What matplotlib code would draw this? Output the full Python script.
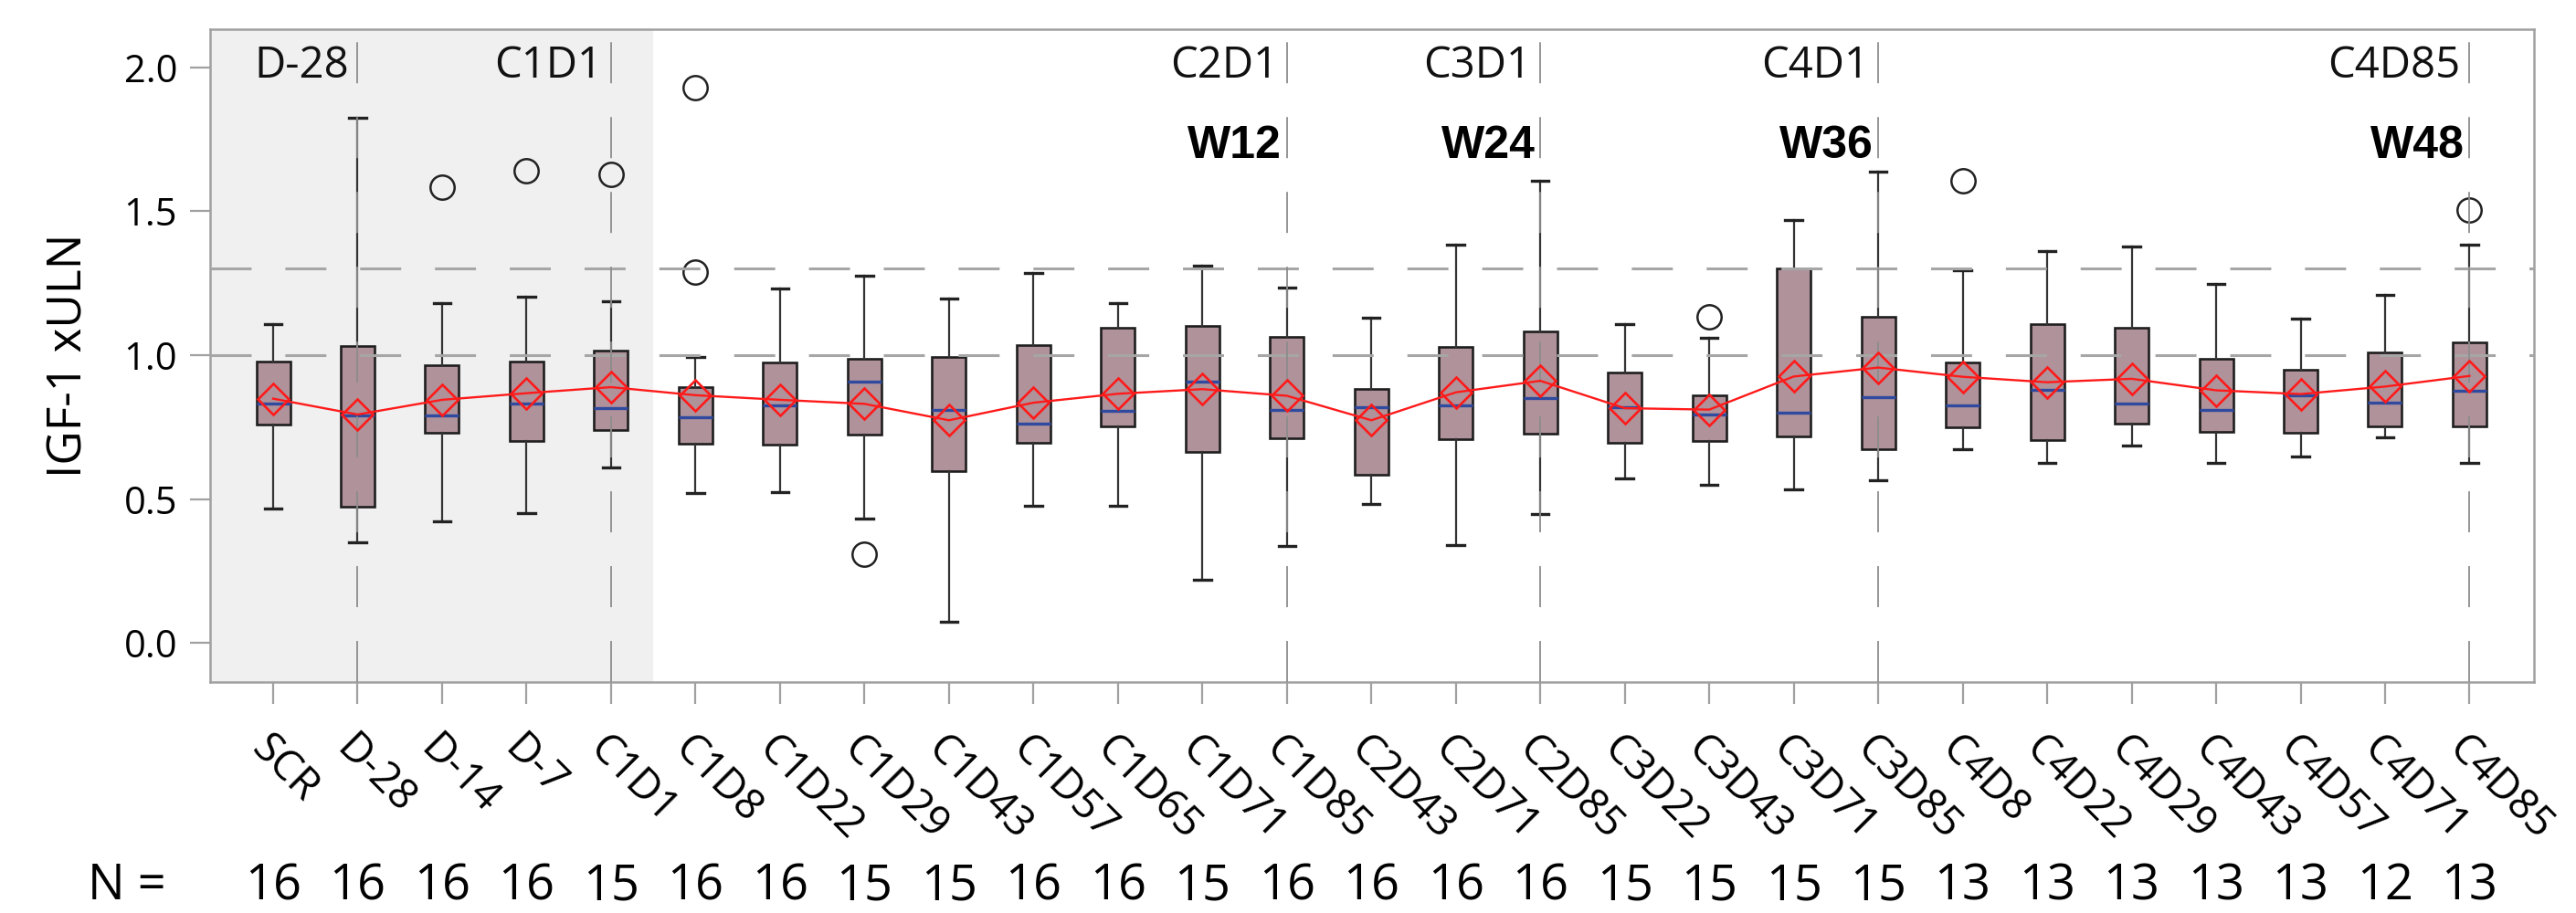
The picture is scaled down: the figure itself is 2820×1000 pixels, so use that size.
import numpy as np
import matplotlib
matplotlib.use('Agg')
import matplotlib.pyplot as plt
from matplotlib.transforms import ScaledTranslation

plt.rcParams['font.family'] = ['Open Sans', 'DejaVu Sans']

# visit labels and sample sizes
visits = ['SCR', 'D-28', 'D-14', 'D-7', 'C1D1', 'C1D8', 'C1D22', 'C1D29', 'C1D43',
          'C1D57', 'C1D65', 'C1D71', 'C1D85', 'C2D43', 'C2D71', 'C2D85', 'C3D22',
          'C3D43', 'C3D71', 'C3D85', 'C4D8', 'C4D22', 'C4D29', 'C4D43', 'C4D57',
          'C4D71', 'C4D85']
n_subj = [16, 16, 16, 16, 15, 16, 16, 15, 15, 16, 16, 15, 16, 16, 16, 16, 15, 15,
          15, 15, 13, 13, 13, 13, 13, 12, 13]

# box statistics (IGF-1 xULN)
q1 = [0.759, 0.474, 0.731, 0.702, 0.741, 0.694, 0.688, 0.723, 0.598, 0.697, 0.754,
      0.663, 0.711, 0.584, 0.709, 0.728, 0.697, 0.703, 0.719, 0.673, 0.751, 0.706,
      0.762, 0.734, 0.731, 0.754, 0.754]
medians = [0.831, 0.792, 0.792, 0.832, 0.815, 0.784, 0.826, 0.907, 0.809, 0.761, 0.807,
           0.909, 0.810, 0.819, 0.825, 0.852, 0.819, 0.795, 0.800, 0.853, 0.826, 0.881,
           0.833, 0.810, 0.862, 0.836, 0.878]
q3 = [0.977, 1.032, 0.966, 0.977, 1.015, 0.889, 0.974, 0.988, 0.994, 1.036, 1.094,
      1.100, 1.065, 0.882, 1.029, 1.083, 0.940, 0.859, 1.302, 1.134, 0.975, 1.108,
      1.096, 0.987, 0.948, 1.011, 1.044]
whis_lo = [0.469, 0.351, 0.422, 0.451, 0.609, 0.522, 0.526, 0.433, 0.074, 0.476, 0.476,
           0.220, 0.338, 0.484, 0.341, 0.447, 0.573, 0.550, 0.535, 0.567, 0.673, 0.625,
           0.686, 0.627, 0.647, 0.715, 0.625]
whis_hi = [1.109, 1.823, 1.180, 1.204, 1.187, 0.993, 1.230, 1.275, 1.198, 1.284, 1.180,
           1.310, 1.235, 1.131, 1.384, 1.606, 1.109, 1.059, 1.468, 1.638, 1.296, 1.360,
           1.378, 1.246, 1.128, 1.208, 1.384]
means = [0.849, 0.794, 0.845, 0.868, 0.889, 0.861, 0.845, 0.831, 0.774, 0.835, 0.866,
         0.882, 0.859, 0.774, 0.871, 0.911, 0.816, 0.811, 0.926, 0.957, 0.925, 0.906,
         0.918, 0.878, 0.865, 0.891, 0.928]
outliers = {'D-14': [1.585], 'D-7': [1.64], 'C1D1': [1.627], 'C1D8': [1.929, 1.288],
            'C1D29': [0.308], 'C3D43': [1.132], 'C4D8': [1.606], 'C4D85': [1.503]}

# reference markers
ref_levels = [1.0, 1.3]
mark_visits = ['D-28', 'C1D1', 'C1D85', 'C2D85', 'C3D85', 'C4D85']
mark_labels = ['D-28', 'C1D1', 'C2D1', 'C3D1', 'C4D1', 'C4D85']
week_labels = ['', '', 'W12', 'W24', 'W36', 'W48']
run_in_end = 'C1D1'

x = np.arange(len(visits))

fig = plt.figure(figsize=(28.2, 10), dpi=100)
ax = fig.add_axes([0.0816, 0.253, 0.902, 0.715])

ax.axvspan(-0.745, visits.index(run_in_end) + 0.5, color='#f0f0f0', zorder=0, lw=0)

stats = []
for i, v in enumerate(visits):
    stats.append(dict(label=v, q1=q1[i], med=medians[i], q3=q3[i],
                      whislo=whis_lo[i], whishi=whis_hi[i],
                      fliers=outliers.get(v, []), mean=means[i]))

ax.bxp(stats, positions=x, widths=0.4, capwidths=0.2, patch_artist=True,
       showmeans=False, manage_ticks=False,
       boxprops=dict(facecolor='#b0929a', edgecolor='#1e1e1e', linewidth=1.9),
       medianprops=dict(color='#2f4a9e', linewidth=2.4),
       whiskerprops=dict(color='#333333', linewidth=1.6),
       capprops=dict(color='#222222', linewidth=2.4),
       flierprops=dict(marker='o', markersize=19, markerfacecolor='none',
                       markeredgecolor='#222222', markeredgewidth=1.8))

for lvl in ref_levels:
    ax.axhline(lvl, color='#a6a6a6', lw=2.2, dashes=(14.7, 12.1), zorder=3)

for v, top, wk in zip(mark_visits, mark_labels, week_labels):
    xv = visits.index(v)
    ax.axvline(xv, color='#8c8c8c', lw=1.3, dashes=(24.9, 20.5), zorder=3)
    ax.annotate(top, (xv, 1.963), xytext=(-7, 0), textcoords='offset points',
                ha='right', va='baseline', fontsize=34, color='#111111')
    if wk:
        ax.annotate(wk, (xv, 1.684), xytext=(-4, 0), textcoords='offset points',
                    ha='right', va='baseline', fontsize=36, fontweight='bold',
                    family=['Liberation Sans Narrow', 'Liberation Sans'])

ax.plot(x, means, color='#ff1a1a', lw=1.7, marker='D', markersize=17,
        markerfacecolor='none', markeredgecolor='#ff1a1a', markeredgewidth=1.9, zorder=5)

ax.set_xlim(-0.745, 26.76)
ax.set_ylim(-0.135, 2.132)
ax.set_yticks([0.0, 0.5, 1.0, 1.5, 2.0])
ax.set_yticklabels(['0.0', '0.5', '1.0', '1.5', '2.0'])
ax.set_xticks(x)
ax.set_xticklabels(visits, rotation=-45, rotation_mode='anchor', ha='left', va='center')

ax.tick_params(axis='y', labelsize=30, length=16, width=1.6, color='#a0a0a0', pad=10)
ax.tick_params(axis='x', labelsize=33, length=17, width=1.6, color='#a0a0a0', pad=31)
for lbl in ax.get_xticklabels():
    lbl.set_transform(lbl.get_transform() + ScaledTranslation(-0.17, 0, fig.dpi_scale_trans))

for sp in ax.spines.values():
    sp.set_color('#a0a0a0')
    sp.set_linewidth(1.8)

fig.text(0.027, 0.611, 'IGF-1 xULN', rotation=90, ha='center', va='center', fontsize=37)

# N row
fig.text(96 / 2820, 0.015, 'N =', ha='left', va='baseline', fontsize=39)
for xi, nv in zip(x, n_subj):
    ax.annotate(str(nv), (xi, 0.015), xycoords=('data', 'figure fraction'),
                ha='center', va='baseline', fontsize=39)

fig.savefig('out.png', dpi=100)
